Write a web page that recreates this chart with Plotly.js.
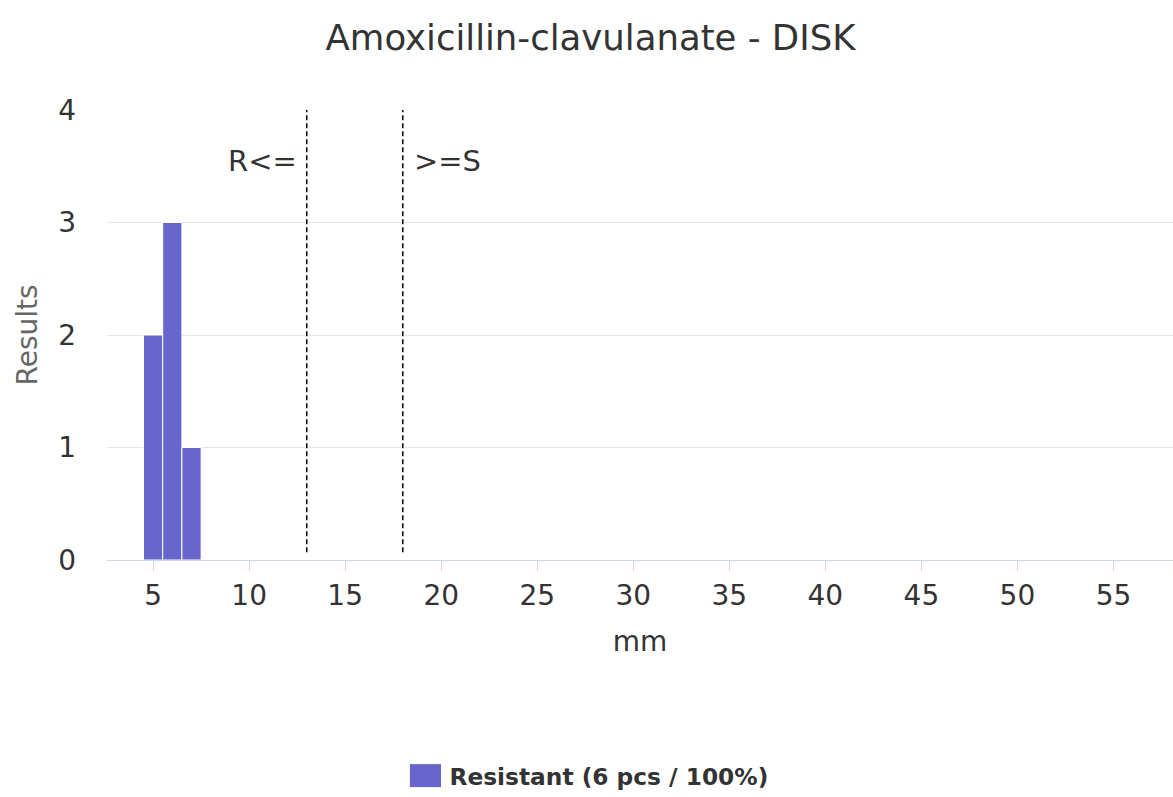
<!DOCTYPE html>
<html>
<head>
<meta charset="utf-8">
<script src="https://cdn.plot.ly/plotly-3.0.1.min.js"></script>
<style>html,body{margin:0;padding:0;background:#fff;}#chart{width:1173px;height:797px;}</style>
</head>
<body>
<div id="chart"></div>
<script>
const diskMm = [5, 6, 7];
const resistantCounts = [2, 3, 1];
const seriesName = "Resistant (6 pcs / 100%)";
const breakpointR = 13;
const breakpointS = 18;
const labelR = "R<=";
const labelS = ">=S";
const xTicks = [5, 10, 15, 20, 25, 30, 35, 40, 45, 50, 55];
const yTicks = [0, 1, 2, 3, 4];
const chartTitle = "Amoxicillin-clavulanate - DISK";

const FONT = "DejaVu Sans, Verdana, sans-serif";

const trace = {
  type: "bar",
  x: diskMm,
  y: resistantCounts,
  width: 1,
  name: seriesName,
  marker: {color: "#6666cc", line: {color: "#ffffff", width: 1}},
  showlegend: true,
  hoverinfo: "x+y"
};

const layout = {
  width: 1173, height: 797,
  margin: {l: 107, r: 0, t: 110, b: 237, autoexpand: false},
  paper_bgcolor: "#ffffff",
  plot_bgcolor: "#ffffff",
  font: {family: FONT, color: "#333333"},
  title: {
    text: chartTitle,
    font: {family: FONT, size: 35.5, color: "#333333"},
    x: 0.5 + 4/1173, xref: "container", xanchor: "center",
    y: 1 - 38/797, yref: "container", yanchor: "middle"
  },
  xaxis: {
    range: [2.6, 58.1],
    tickvals: xTicks,
    ticktext: xTicks.map(String),
    tickangle: 0,
    ticks: "outside", ticklen: 10, tickwidth: 1, tickcolor: "#ccd6eb",
    ticklabelstandoff: 0,
    showline: true, linecolor: "#ccd6eb", linewidth: 1,
    showgrid: false, zeroline: false,
    tickfont: {family: FONT, size: 28, color: "#333333"},
    title: {text: "mm", font: {family: FONT, size: 28, color: "#333333"}, standoff: 20},
    automargin: false,
    fixedrange: true
  },
  yaxis: {
    range: [0, 4],
    tickvals: yTicks,
    showgrid: true, gridcolor: "#e6e6e6", gridwidth: 1,
    zeroline: false, showline: false,
    ticks: "", ticklabelstandoff: 30,
    tickfont: {family: FONT, size: 28, color: "#333333"},
    title: {text: "Results", font: {family: FONT, size: 28, color: "#666666"}, standoff: 12},
    automargin: false,
    fixedrange: true
  },
  shapes: [
    {type: "line", xref: "x", yref: "paper", x0: breakpointR, x1: breakpointR, y0: 0.017, y1: 1,
     line: {color: "#000000", width: 1.5, dash: "5px,3px"}},
    {type: "line", xref: "x", yref: "paper", x0: breakpointS, x1: breakpointS, y0: 0.017, y1: 1,
     line: {color: "#000000", width: 1.5, dash: "5px,3px"}}
  ],
  annotations: [
    {xref: "x", yref: "paper", x: breakpointR, y: (560.5-161.5)/450, text: labelR, showarrow: false,
     xanchor: "right", yanchor: "middle", xshift: -8, font: {family: FONT, size: 29, color: "#333333"}},
    {xref: "x", yref: "paper", x: breakpointS, y: (560.5-161.5)/450, text: labelS, showarrow: false,
     xanchor: "left", yanchor: "middle", xshift: 9, font: {family: FONT, size: 29, color: "#333333"}}
  ],
  legend: {
    orientation: "h",
    x: 0.5 + 5/1173, xref: "container", xanchor: "center",
    y: 1 - 776/797, yref: "container", yanchor: "middle",
    font: {family: FONT, size: 23.3, color: "#333333", weight: "bold"},
    bgcolor: "rgba(0,0,0,0)"
  },
  bargap: 0,
  hovermode: false
};

Plotly.newPlot("chart", [trace], layout, {displayModeBar: false, staticPlot: true}).then(function (gd) {
  // enlarge the legend swatch to match the reference's rectangle
  gd.querySelectorAll(".legendpoints path").forEach(function (p) {
    p.setAttribute("d", "M12,12H-20V-12H12Z");
  });
});
</script>
</body>
</html>
